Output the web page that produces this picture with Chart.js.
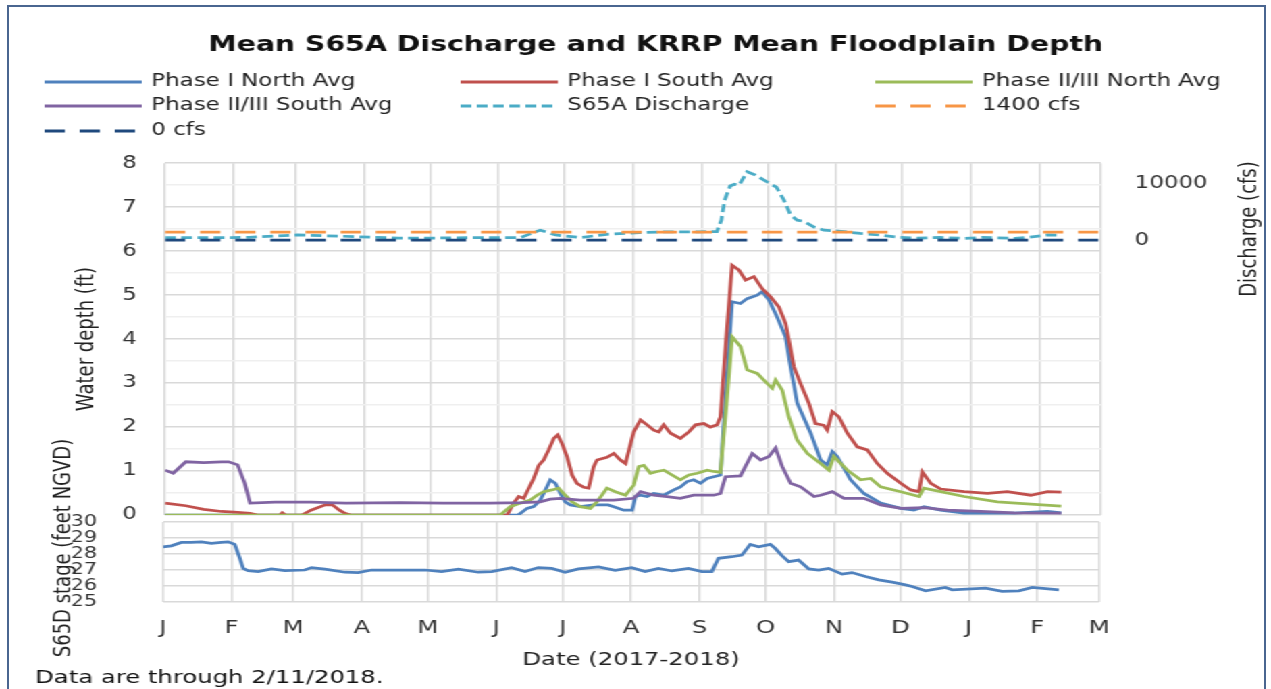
<!DOCTYPE html>
<html>
<head>
<meta charset="utf-8">
<title>Mean S65A Discharge and KRRP Mean Floodplain Depth</title>
<script src="https://cdn.jsdelivr.net/npm/chart.js@4.4.1/dist/chart.umd.min.js"></script>
<style>
  html, body { margin: 0; padding: 0; background: #fff; overflow: hidden; }
  #frame { position: absolute; left: 7px; top: 5px; width: 1259px; height: 700px;
           border: 2px solid #4a6690; box-sizing: border-box; }
  /* the original picture is stretched sideways, so the charts are drawn narrow and widened */
  #stretch { position: absolute; left: 0; top: 0; width: 941px; height: 689px;
             transform: scaleX(1.3507); transform-origin: 0 0; }
  #stretch canvas { position: absolute; left: 0; top: 0; }
</style>
</head>
<body>
<div id="frame"></div>
<div id="stretch">
  <canvas id="depthChart" width="941" height="689"></canvas>
  <canvas id="stageChart" width="941" height="689"></canvas>
</div>
<script>
// x values are days since 1 Jan 2017
var monthDays = [0, 31, 59, 90, 120, 151, 181, 212, 243, 273, 304, 334, 365, 396, 424];
var monthLetters = ['J', 'F', 'M', 'A', 'M', 'J', 'J', 'A', 'S', 'O', 'N', 'D', 'J', 'F', 'M'];

var northDays = [0, 160, 164, 167, 170, 172.3, 174.5, 176.8, 179.1, 181.3, 183.6, 188.1, 194.2, 200.7, 203.3,
  207.8, 211.6, 213.1, 215.4, 218.4, 221.4, 225.9, 230.5, 233.5, 236.5, 239.5, 242.6, 245.6, 248.6, 251.6,
  254.2, 256.9, 260.7, 263.7, 268.3, 270.5, 273.6, 277.3, 281.1, 283.4, 286.4, 292.5, 297, 300, 302.3,
  304.5, 310.6, 316.6, 324.2, 333.3, 339.3, 343.8, 351.4, 362, 384.7, 399.8, 406];
var northDepth = [0, 0, 0.15, 0.19, 0.34, 0.57, 0.8, 0.72, 0.49, 0.3, 0.23, 0.19, 0.23, 0.23, 0.19,
  0.11, 0.11, 0.42, 0.45, 0.42, 0.49, 0.45, 0.57, 0.64, 0.76, 0.8, 0.72, 0.83, 0.87, 0.91,
  2.9, 4.85, 4.81, 4.92, 5.0, 5.08, 4.89, 4.5, 4.05, 3.37, 2.54, 1.86, 1.25, 1.14, 1.44,
  1.33, 0.8, 0.49, 0.27, 0.15, 0.11, 0.19, 0.11, 0.04, 0.04, 0.08, 0.05];

var southDays = [0, 9.4, 17.5, 25.6, 32.9, 38.5, 41.8, 52, 53.1, 54.5, 62, 66.1, 72.6, 75.8, 79, 81.5, 84, 155,
  157.9, 160.2, 162.5, 164.7, 167, 169.3, 171.5, 173.8, 176.1, 177.9, 179.8, 182.1, 184.4, 186.6, 189.7,
  191.9, 194.2, 195.7, 200.2, 203.3, 206.3, 208.6, 212.3, 215.4, 218.4, 221.4, 223.7, 225.9, 229, 233.5,
  237.3, 240.3, 244.1, 247.1, 250.1, 251.6, 254.2, 256.9, 260, 263, 266.8, 270.5, 274.3, 278.1, 281.1,
  282.6, 284.9, 287.9, 291.7, 294.7, 298.5, 300, 302.3, 305.3, 309.1, 313.6, 318.1, 322.7, 327.2, 333.3,
  337.8, 341.6, 343.1, 346.9, 351.4, 362, 372.6, 381.6, 392.2, 399.8, 406];
var southDepth = [0.27, 0.21, 0.13, 0.08, 0.06, 0.04, 0, 0, 0.05, 0, 0, 0.11, 0.23, 0.23, 0.11, 0.04, 0, 0,
  0.27, 0.42, 0.38, 0.6, 0.83, 1.13, 1.25, 1.48, 1.74, 1.82, 1.63, 1.33, 0.91, 0.72, 0.63,
  0.61, 1.1, 1.25, 1.31, 1.4, 1.25, 1.17, 1.89, 2.16, 2.05, 1.93, 1.89, 2.05, 1.86, 1.74,
  1.89, 2.05, 2.08, 2.0, 2.05, 2.23, 4.0, 5.68, 5.57, 5.34, 5.42, 5.15, 4.96, 4.73, 4.36,
  3.98, 3.37, 2.99, 2.54, 2.08, 2.04, 1.93, 2.35, 2.23, 1.86, 1.55, 1.48, 1.17, 0.95, 0.72,
  0.57, 0.53, 0.98, 0.72, 0.59, 0.53, 0.49, 0.53, 0.45, 0.53, 0.52];

var north23Days = [0, 151.9, 156.4, 161, 165.5, 168.5, 171.5, 175.3, 178.3, 181.3, 184.4, 188.1, 192.7, 195.7,
  200.2, 204, 208.6, 212.3, 214.6, 216.9, 219.9, 222.9, 226, 229.7, 233.5, 237.3, 241.1, 245.6, 248.6,
  251.6, 254.5, 256.9, 260.7, 263.7, 268.3, 272.8, 275.1, 276.6, 279.6, 282.6, 286.4, 291, 297, 300.8,
  303, 309.1, 315.1, 319.7, 324.2, 333.3, 341.6, 343.8, 351.4, 362, 377.1, 392.2, 406];
var north23Depth = [0, 0, 0.19, 0.27, 0.34, 0.45, 0.53, 0.57, 0.61, 0.45, 0.3, 0.19, 0.15, 0.3,
  0.61, 0.53, 0.45, 0.68, 1.1, 1.13, 0.95, 0.99, 1.02, 0.91, 0.8, 0.91, 0.95, 1.02, 0.99,
  0.97, 2.6, 4.05, 3.83, 3.3, 3.22, 2.99, 2.88, 3.07, 2.84, 2.23, 1.7, 1.4, 1.17, 1.02,
  1.33, 1.02, 0.8, 0.83, 0.64, 0.53, 0.42, 0.61, 0.53, 0.42, 0.3, 0.25, 0.2];

var south23Days = [0, 3.7, 9.4, 17.5, 25.6, 28.8, 32.9, 36.1, 38.5, 49.9, 66.1, 82, 106.6, 126, 147, 162, 170,
  174.5, 179.1, 188.1, 203.3, 212.3, 215.4, 221.4, 227.4, 233.5, 239.5, 248.6, 251.6, 253.9, 260.7, 266,
  269.8, 273.6, 276.6, 279.6, 283.4, 287.9, 294, 297, 302.3, 307.6, 316.6, 324.2, 333.3, 343.8, 354.4,
  369.5, 384.7, 406];
var south23Depth = [1.02, 0.95, 1.21, 1.19, 1.21, 1.21, 1.14, 0.72, 0.27, 0.29, 0.29, 0.27, 0.28, 0.27, 0.27, 0.28, 0.3,
  0.36, 0.38, 0.34, 0.34, 0.38, 0.53, 0.45, 0.42, 0.38, 0.45, 0.45, 0.49, 0.87, 0.89, 1.4,
  1.25, 1.33, 1.52, 1.1, 0.72, 0.64, 0.42, 0.45, 0.53, 0.38, 0.38, 0.23, 0.15, 0.17, 0.11,
  0.08, 0.05, 0.04];

var flowDays = [0, 30, 38, 60, 79, 106, 120, 142, 161, 170, 177, 188, 201, 215, 226, 242, 250, 252, 253.5, 256,
  258, 260, 263.7, 267.5, 272.8, 277, 280.4, 283.4, 286.4, 289.4, 294, 298.5, 305, 315, 324, 333, 340,
  351, 362, 370, 385, 391, 400, 406];
var flowCfs = [450, 450, 500, 900, 700, 350, 350, 450, 450, 1750, 900, 450, 1050, 1300, 1450, 1450, 1500, 3500, 7000, 9500,
  9800, 9600, 12000, 11400, 10200, 9300, 7000, 4400, 3500, 3300, 2300, 1750, 1600, 1170, 880, 470, 350,
  470, 300, 470, 300, 500, 900, 880];

var refDays = [0, 424];
var cfs1400 = [1400, 1400];
var cfs0 = [0, 0];

var stageDays = [0, 3.8, 8.3, 12.8, 17.4, 21.9, 26.4, 29.5, 32.5, 34.8, 36.3, 38.5, 43.1, 49.1, 55.2, 64.2, 67.3,
  73.3, 82.4, 88.4, 94.5, 103.5, 118.7, 126.2, 133.8, 142.8, 148.9, 157.9, 164, 170, 176.1, 182.1, 188.2,
  197.3, 204.8, 212.3, 218.4, 224.4, 230.5, 238, 244.1, 248.6, 251.6, 257.7, 262.2, 266, 269.8, 275.1,
  277.3, 280.4, 283.4, 287.9, 292.5, 297, 301.5, 307.6, 312.1, 318.2, 324.2, 330.3, 336.3, 339.3, 345.4,
  354.4, 357.5, 372.6, 380.1, 387.7, 393.7, 399.8, 405.8];
var stageFeet = [28.45, 28.51, 28.72, 28.72, 28.76, 28.66, 28.72, 28.76, 28.6, 27.73, 27.1, 26.96, 26.9, 27.07, 26.96, 27.0, 27.15,
  27.05, 26.86, 26.84, 27.0, 27.0, 27.0, 26.9, 27.05, 26.86, 26.9, 27.15, 26.9, 27.15, 27.1, 26.86, 27.07,
  27.19, 26.98, 27.15, 26.9, 27.1, 26.94, 27.1, 26.9, 26.9, 27.73, 27.83, 27.93, 28.6, 28.45, 28.6,
  28.35, 27.89, 27.52, 27.62, 27.07, 27.0, 27.1, 26.74, 26.84, 26.59, 26.38, 26.24, 26.07, 25.97, 25.7,
  25.91, 25.76, 25.87, 25.66, 25.7, 25.91, 25.83, 25.76];

var FONT = '"DejaVu Sans", sans-serif';
Chart.defaults.font.family = FONT;
Chart.defaults.color = '#333';

function pts(days, vals) {
  return days.map(function (d, i) { return {x: d, y: vals[i]}; });
}

function series(label, color, data, axis, dash, order) {
  return {label: label, data: data, yAxisID: axis, borderColor: color, backgroundColor: color,
          borderWidth: 2.75, borderDash: dash || [], pointRadius: 0, tension: 0, order: order};
}

function monthTicks(axis) {
  axis.ticks = monthDays.map(function (d) { return {value: d}; });
}

function stepTicks(from, to, step) {
  return function (axis) {
    var t = [];
    for (var v = from; v <= to + 1e-9; v += step) t.push({value: Math.round(v * 100) / 100});
    axis.ticks = t;
  };
}

// rotated text reading upwards, for titles placed off the axis centre
function upText(ctx, text, x, y) {
  ctx.save();
  ctx.translate(x, y);
  ctx.rotate(-Math.PI / 2);
  ctx.textAlign = 'center';
  ctx.textBaseline = 'middle';
  ctx.font = '18px ' + FONT;
  ctx.fillStyle = '#222';
  ctx.fillText(text, 0, 0);
  ctx.restore();
}

// legend in three fixed columns plus the right axis title
var legendCols = [33, 341, 648];
var legendRows = [82, 106, 131];
var depthExtras = {
  id: 'depthExtras',
  afterDraw: function (chart) {
    var ctx = chart.ctx;
    ctx.save();
    ctx.font = '17px ' + FONT;
    ctx.textBaseline = 'middle';
    chart.data.datasets.forEach(function (ds, i) {
      var x = legendCols[i % 3], y = legendRows[Math.floor(i / 3)];
      ctx.strokeStyle = ds.borderColor;
      ctx.lineWidth = 3;
      ctx.setLineDash(ds.borderDash);
      ctx.beginPath();
      ctx.moveTo(x, y);
      ctx.lineTo(x + 72, y);
      ctx.stroke();
      ctx.setLineDash([]);
      ctx.fillStyle = '#222';
      ctx.fillText(ds.label, x + 79, y);
    });
    ctx.restore();
    upText(ctx, 'Discharge (cfs)', 925, 229);
  }
};

var stageExtras = {
  id: 'stageExtras',
  afterDraw: function (chart) {
    upText(chart.ctx, 'S65D stage (feet NGVD)', 47, 548);
  }
};

new Chart('depthChart', {
  type: 'line',
  data: {
    datasets: [
      series('Phase I North Avg', '#4f81bd', pts(northDays, northDepth), 'y', null, 7),
      series('Phase I South Avg', '#c0504d', pts(southDays, southDepth), 'y', null, 6),
      series('Phase II/III North Avg', '#9bbb59', pts(north23Days, north23Depth), 'y', null, 5),
      series('Phase II/III South Avg', '#8064a2', pts(south23Days, south23Depth), 'y', null, 4),
      series('S65A Discharge', '#4bacc6', pts(flowDays, flowCfs), 'y2', [8, 4], 3),
      series('1400 cfs', '#f79646', pts(refDays, cfs1400), 'y2', [15, 11], 2),
      series('0 cfs', '#1f497d', pts(refDays, cfs0), 'y2', [15, 11], 1)
    ]
  },
  options: {
    responsive: false,
    animation: false,
    events: [],
    layout: {padding: {left: 30, right: 0, top: 0, bottom: 174}},
    plugins: {
      legend: {display: false},
      tooltip: {enabled: false},
      title: {
        display: true,
        text: 'Mean S65A Discharge and KRRP Mean Floodplain Depth',
        font: {size: 21, weight: 'bold'},
        color: '#111',
        padding: {top: 33, bottom: 105}
      }
    },
    scales: {
      x: {
        type: 'linear', min: 0, max: 424,
        afterBuildTicks: monthTicks,
        ticks: {display: false},
        grid: {color: '#d9d9d9', lineWidth: 1.5, drawTicks: false},
        border: {display: false},
        afterFit: function (s) { s.height = 0; }
      },
      y: {
        min: 0, max: 8,
        afterBuildTicks: stepTicks(0, 8, 0.5),
        ticks: {
          autoSkip: false, padding: 21, font: {size: 17},
          callback: function (v) { return v % 1 === 0 ? String(v) : ''; }
        },
        grid: {
          color: function (c) { return c.tick && c.tick.value % 1 === 0 ? '#d9d9d9' : '#efefef'; },
          lineWidth: 1.5, drawTicks: false
        },
        border: {display: false},
        title: {display: true, text: 'Water depth (ft)', font: {size: 18}, color: '#222', padding: {top: 24, bottom: 0}},
        afterFit: function (s) { s.width = 92.2; }
      },
      y2: {
        position: 'right',
        min: -48250, max: 13500,
        afterBuildTicks: function (a) { a.ticks = [{value: 0}, {value: 10000}]; },
        ticks: {autoSkip: false, padding: 25, font: {size: 17}, callback: function (v) { return String(v); }},
        grid: {display: false, drawTicks: false},
        border: {display: false},
        afterFit: function (s) { s.width = 125.9; }
      }
    }
  },
  plugins: [depthExtras]
});

new Chart('stageChart', {
  type: 'line',
  data: {
    datasets: [series('S65D stage', '#4f81bd', pts(stageDays, stageFeet), 'y', null, 1)]
  },
  options: {
    responsive: false,
    animation: false,
    events: [],
    layout: {padding: {left: 26, right: 127.3, top: 522, bottom: 0}},
    plugins: {
      legend: {display: false},
      tooltip: {enabled: false},
      title: {
        display: true,
        text: 'Data are through 2/11/2018.',
        position: 'bottom', align: 'start',
        font: {size: 18, weight: 'normal', lineHeight: 1},
        color: '#111',
        padding: {top: 0, bottom: 2}
      }
    },
    scales: {
      x: {
        type: 'linear', min: 0, max: 424,
        afterBuildTicks: monthTicks,
        ticks: {
          autoSkip: false, maxRotation: 0, padding: 16, font: {size: 18},
          callback: function (v, i) { return monthLetters[i]; }
        },
        grid: {color: '#d9d9d9', lineWidth: 1.5, drawTicks: false},
        border: {display: false},
        title: {display: true, text: 'Date (2017-2018)', font: {size: 18, lineHeight: 1}, color: '#222', padding: 0},
        afterFit: function (s) { s.height = 67; }
      },
      y: {
        min: 25, max: 30,
        afterBuildTicks: stepTicks(25, 30, 1),
        ticks: {autoSkip: false, padding: 49, font: {size: 15}},
        grid: {color: '#d9d9d9', lineWidth: 1.5, drawTicks: false},
        border: {display: false},
        afterFit: function (s) { s.width = 94.7; }
      }
    }
  },
  plugins: [stageExtras]
});
</script>
</body>
</html>
